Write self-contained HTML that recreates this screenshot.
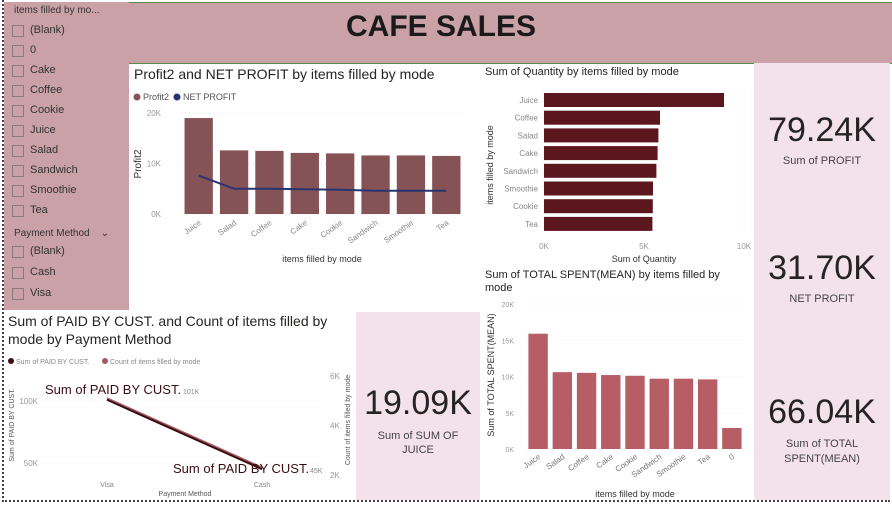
<!DOCTYPE html>
<html><head><meta charset="utf-8"><style>
body{margin:0;width:892px;height:506px;overflow:hidden;background:#fff;font-family:"Liberation Sans",sans-serif;position:relative}
.abs{position:absolute}
.cb{position:absolute;left:12px;width:10px;height:10px;border:1px solid #8a7a7c;background:transparent}
.sl{position:absolute;left:30px;font-size:11px;color:#333}
.kv{position:absolute;width:100%;text-align:center;font-size:34px;color:#252423}
.kl{position:absolute;width:100%;text-align:center;font-size:11px;color:#444}
</style></head><body>
<div class="abs" style="left:2px;top:0;width:886px;height:500px;border-left:2px dotted #444;border-bottom:2px dotted #444"></div>
<div class="abs" style="left:115px;top:2px;width:777px;height:60px;background:#c9a1a7;border-top:1px solid #5a8a4a;border-bottom:1px solid #5a8a4a"></div>
<div class="abs" style="left:129px;top:10px;width:624px;text-align:center;font-size:30px;font-weight:bold;color:#1a1a1a">CAFE SALES</div>
<div class="abs" style="left:4px;top:2px;width:125px;height:308px;background:#c9a1a7"></div>
<div class="abs" style="left:14px;top:5px;font-size:10px;color:#333">items filled by mo...</div>
<div id="sl1"></div>
<div class="abs" style="left:14px;top:228px;font-size:10px;color:#333">Payment Method &nbsp;&nbsp;&nbsp;⌄</div>
<div class="abs" style="left:754px;top:63px;width:136px;height:437px;background:#f3e2e9">
 <div class="kv" style="top:48px">79.24K</div>
 <div class="kl" style="top:92px">Sum of PROFIT</div>
 <div class="kv" style="top:186px">31.70K</div>
 <div class="kl" style="top:230px">NET PROFIT</div>
 <div class="kv" style="top:330px">66.04K</div>
 <div class="kl" style="top:374px;line-height:15px">Sum of TOTAL<br>SPENT(MEAN)</div>
</div>
<div class="abs" style="left:356px;top:312px;width:124px;height:188px;background:#f3e2e9">
 <div class="kv" style="top:72px">19.09K</div>
 <div class="kl" style="top:117px;line-height:14px">Sum of SUM OF<br>JUICE</div>
</div>
<div class="abs" style="left:134px;top:66px;font-size:14px;color:#252423">Profit2 and NET PROFIT by items filled by mode</div>
<div class="abs" style="left:485px;top:66px;font-size:11px;color:#252423">Sum of Quantity by items filled by mode</div>
<div class="abs" style="left:485px;top:269px;font-size:11px;color:#252423;width:260px;line-height:13px">Sum of TOTAL SPENT(MEAN) by items filled by mode</div>
<div class="abs" style="left:8px;top:312px;font-size:14px;color:#252423;width:345px;line-height:18px">Sum of PAID BY CUST. and Count of items filled by mode by Payment Method</div>
<svg id="svg" class="abs" style="left:0;top:0" width="892" height="506" font-family="Liberation Sans, sans-serif"></svg>
<script>
const c1Cats=["Juice","Salad","Coffee","Cake","Cookie","Sandwich","Smoothie","Tea"];
const c1Profit2=[19000,12600,12500,12100,12000,11600,11600,11500];
const c1Net=[7600,5000,5000,4900,4800,4600,4600,4600];
const c1Ticks=[0,10000,20000];
const c2Cats=["Juice","Coffee","Salad","Cake","Sandwich","Smoothie","Cookie","Tea"];
const c2Qty=[9000,5800,5720,5680,5620,5450,5440,5420];
const c2Ticks=[0,5000,10000];
const c3Cats=["Juice","Salad","Coffee","Cake","Cookie","Sandwich","Smoothie","Tea","0"];
const c3Spent=[15900,10600,10500,10200,10100,9700,9700,9600,2900];
const c3Ticks=[0,5000,10000,15000,20000];
const c4Cats=["Visa","Cash"];
const c4Paid=[101000,45000];
const c4Count=[5100,2300];
const c4LeftTicks=[50000,100000];
const c4RightTicks=[2000,4000,6000];
const slItems=["(Blank)","0","Cake","Coffee","Cookie","Juice","Salad","Sandwich","Smoothie","Tea"];
const slPay=["(Blank)","Cash","Visa"];
const fmtK=v=>(v/1000)+"K";
const svg=document.getElementById('svg');const NS="http://www.w3.org/2000/svg";
function mk(t,a,txt){const e=document.createElementNS(NS,t);for(const k in a)e.setAttribute(k,a[k]);if(txt!==undefined)e.textContent=txt;svg.appendChild(e);return e;}
// slicers
const sl=document.getElementById('sl1');
slItems.forEach((s,i)=>{const y=24+i*20;
 const b=document.createElement('div');b.className='cb';b.style.top=(y+1)+'px';
 
 sl.appendChild(b);
 const l=document.createElement('div');l.className='sl';l.style.top=y+'px';l.textContent=s;
 
 sl.appendChild(l);});
slPay.forEach((s,i)=>{const y=245+i*21;
 const b=document.createElement('div');b.className='cb';b.style.top=(y+1)+'px';
 
 sl.appendChild(b);
 const l=document.createElement('div');l.className='sl';l.style.top=y+'px';l.textContent=s;
 
 sl.appendChild(l);});
// chart1
{const x0=181,x1=464,yb=214,yt=113,max=20000;const y=v=>yb-(v/max)*(yb-yt);const step=(x1-x0)/c1Cats.length;
 mk('circle',{cx:137,cy:97,r:3.5,fill:'#855356'});
 let t=mk('text',{x:143,y:100,'font-size':9,fill:'#555'},'Profit2');
 mk('circle',{cx:177,cy:97,r:3.5,fill:'#283470'});
 t=mk('text',{x:183,y:100,'font-size':9,fill:'#555'},'NET PROFIT');
 c1Ticks.forEach(v=>{mk('line',{x1:x0,x2:x1,y1:y(v),y2:y(v),stroke:'#ddd','stroke-dasharray':'1 3'});
  const tt=mk('text',{x:161,y:y(v)+3,'font-size':8,fill:'#999','text-anchor':'end'},fmtK(v));});
 t=mk('text',{x:141,y:164,'font-size':10,fill:'#333','text-anchor':'middle',transform:'rotate(-90 141 164)'},'Profit2');
 c1Cats.forEach((c,i)=>{const cx=x0+step*(i+0.5);
  const r=mk('rect',{x:cx-step*0.4,y:y(c1Profit2[i]),width:step*0.8,height:yb-y(c1Profit2[i]),fill:'#855356'});
  
  
  const tt=mk('text',{x:cx+3,y:yb+10,'font-size':8,fill:'#888','text-anchor':'end',transform:`rotate(-35 ${cx+3} ${yb+10})`},c);});
 const pts=c1Cats.map((c,i)=>`${x0+step*(i+0.5)},${y(c1Net[i])}`).join(' ');
 const pl=mk('polyline',{points:pts,fill:'none',stroke:'#283470','stroke-width':2});
 t=mk('text',{x:322,y:262,'font-size':9,fill:'#333','text-anchor':'middle'},'items filled by mode');}
// chart2
{const x0=544,x1=744,max=10000;const x=v=>x0+(v/max)*(x1-x0);const yTop=93,step=17.7;
 c2Ticks.forEach(v=>{mk('line',{x1:x(v),x2:x(v),y1:90,y2:232,stroke:'#eee','stroke-dasharray':'1 3'});
  const tt=mk('text',{x:x(v),y:249,'font-size':8,fill:'#999','text-anchor':'middle'},fmtK(v));});
 c2Cats.forEach((c,i)=>{const yy=yTop+i*step;
  const r=mk('rect',{x:x0,y:yy,width:x(c2Qty[i])-x0,height:14,fill:'#5c171e'});
  
  
  const tt=mk('text',{x:538,y:yy+10,'font-size':8,fill:'#888','text-anchor':'end'},c);});
 let t=mk('text',{x:493,y:165,'font-size':9,fill:'#333','text-anchor':'middle',transform:'rotate(-90 493 165)'},'items filled by mode');
 t=mk('text',{x:644,y:262,'font-size':9,fill:'#333','text-anchor':'middle'},'Sum of Quantity');}
// chart3
{const x0=526,x1=744,yb=449,yt=304,max=20000;const y=v=>yb-(v/max)*(yb-yt);const step=(x1-x0)/c3Cats.length;
 c3Ticks.forEach(v=>{mk('line',{x1:x0,x2:x1,y1:y(v),y2:y(v),stroke:'#eee','stroke-dasharray':'1 3'});
  const tt=mk('text',{x:514,y:y(v)+3,'font-size':7,fill:'#999','text-anchor':'end'},fmtK(v));});
 c3Cats.forEach((c,i)=>{const cx=x0+step*(i+0.5);
  const r=mk('rect',{x:cx-step*0.4,y:y(c3Spent[i]),width:step*0.8,height:yb-y(c3Spent[i]),fill:'#b65d65'});
  
  
  const tt=mk('text',{x:cx+3,y:yb+9,'font-size':8,fill:'#777','text-anchor':'end',transform:`rotate(-35 ${cx+3} ${yb+9})`},c);});
 let t=mk('text',{x:494,y:375,'font-size':9,fill:'#333','text-anchor':'middle',transform:'rotate(-90 494 375)'},'Sum of TOTAL SPENT(MEAN)');
 t=mk('text',{x:635,y:497,'font-size':9,fill:'#333','text-anchor':'middle'},'items filled by mode');}
// chart4
{const xs=[107,262];const yL=v=>463-(v-50000)*(62/50000);const yR=v=>475-(v-2000)*(99/4000);
 mk('circle',{cx:11,cy:361,r:3,fill:'#3b0d12'});
 let t=mk('text',{x:16,y:364,'font-size':7,fill:'#888'},'Sum of PAID BY CUST.');
 mk('circle',{cx:105,cy:361,r:3,fill:'#a15a60'});
 t=mk('text',{x:110,y:364,'font-size':7,fill:'#888'},'Count of items filled by mode');
 c4LeftTicks.forEach(v=>{mk('line',{x1:42,x2:322,y1:yL(v),y2:yL(v),stroke:'#eee','stroke-dasharray':'1 3'});
  const tt=mk('text',{x:38,y:yL(v)+3,'font-size':8,fill:'#999','text-anchor':'end'},fmtK(v));});
 c4RightTicks.forEach(v=>{const tt=mk('text',{x:330,y:yR(v)+3,'font-size':8,fill:'#999'},fmtK(v));});
 c4Cats.forEach((c,i)=>{const tt=mk('text',{x:xs[i],y:487,'font-size':7,fill:'#888','text-anchor':'middle'},c);});
 const lc=mk('polyline',{points:c4Cats.map((c,i)=>`${xs[i]},${yR(c4Count[i])}`).join(' '),fill:'none',stroke:'#a15a60','stroke-width':2});
 const lp=mk('polyline',{points:c4Cats.map((c,i)=>`${xs[i]},${yL(c4Paid[i])}`).join(' '),fill:'none',stroke:'#3b0d12','stroke-width':2});
 t=mk('text',{x:45,y:yL(c4Paid[0])-6,'font-size':13,fill:'#3b0d12'},'Sum of PAID BY CUST.');
 t=mk('text',{x:183,y:yL(c4Paid[0])-6,'font-size':7,fill:'#888'},fmtK(c4Paid[0]));
 t=mk('text',{x:173,y:yL(c4Paid[1])+4,'font-size':13,fill:'#3b0d12'},'Sum of PAID BY CUST.');
 t=mk('text',{x:310,y:yL(c4Paid[1])+4,'font-size':7,fill:'#888'},fmtK(c4Paid[1]));
 t=mk('text',{x:14,y:425,'font-size':7,fill:'#555','text-anchor':'middle',transform:'rotate(-90 14 425)'},'Sum of PAID BY CUST.');
 t=mk('text',{x:350,y:420,'font-size':7,fill:'#555','text-anchor':'middle',transform:'rotate(-90 350 420)'},'Count of items filled by mode');
 t=mk('text',{x:185,y:496,'font-size':7,fill:'#555','text-anchor':'middle'},'Payment Method');}
</script>
</body></html>
